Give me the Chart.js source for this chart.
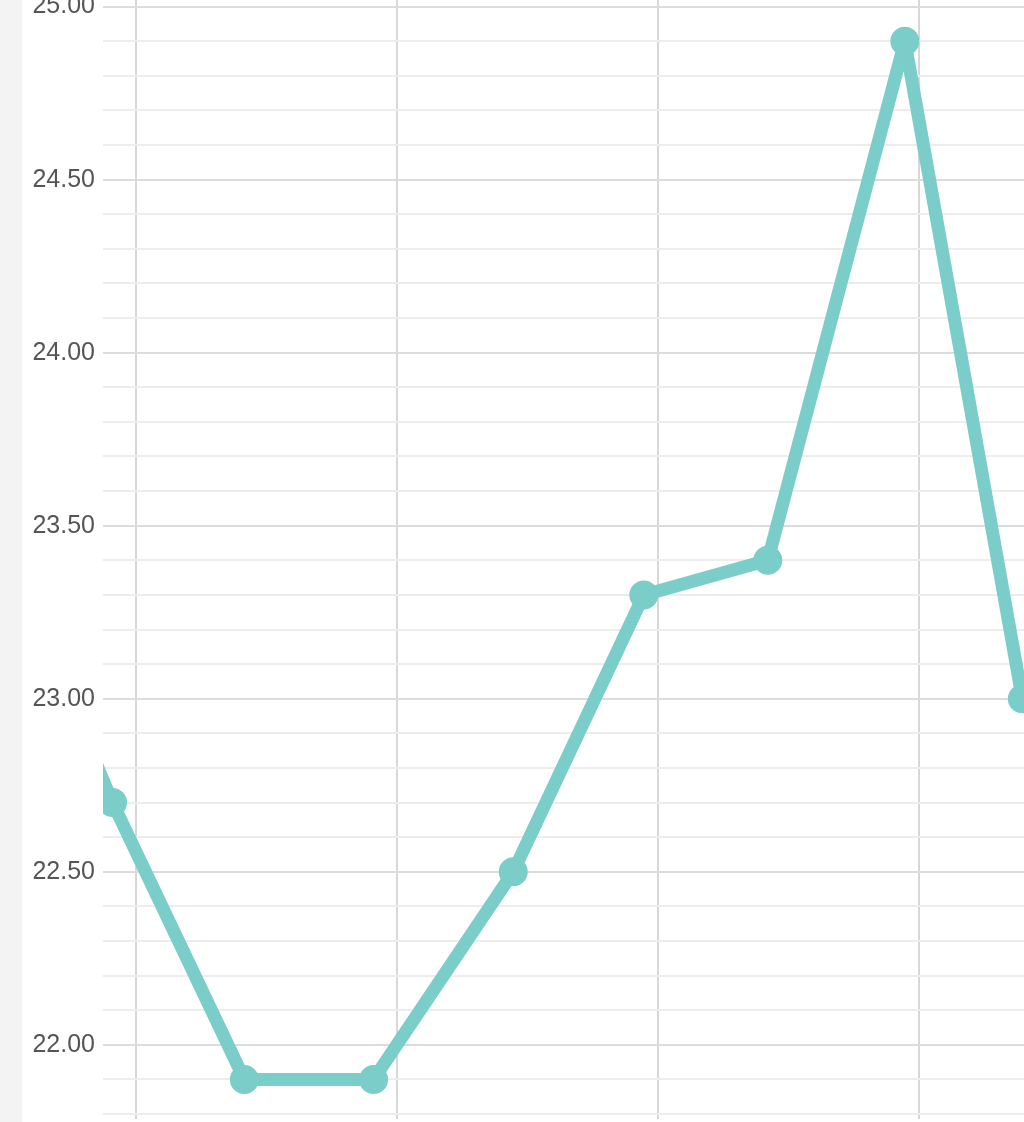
<!DOCTYPE html>
<html>
<head>
<meta charset="utf-8">
<script src="https://cdn.jsdelivr.net/npm/chart.js@4/dist/chart.umd.min.js"></script>
<style>
    html, body {
        margin: 0;
        padding: 0;
        width: 1024px;
        height: 1122px;
        overflow: hidden;
        background: #ffffff;
    }
    .side-strip {
        position: absolute;
        left: 0;
        top: 0;
        width: 22px;
        height: 1122px;
        background: #f3f3f3;
    }
    /* the view is zoomed in, so the chart runs past the top and right edge */
    .chart-wrap {
        position: absolute;
        left: 22px;
        top: -51px;
        width: 1109px;
        height: 1188px;
    }
</style>
</head>
<body>
<div class="side-strip"></div>
<div class="chart-wrap">
    <canvas id="tempChart"></canvas>
</div>

<script>
// Readings (x = position on the time axis, y = value)
const xValues = [-1.18, -0.18, 0.83, 1.82, 2.89, 3.89, 4.84, 5.89, 6.79];
const yValues = [23.6, 22.7, 21.9, 21.9, 22.5, 23.3, 23.4, 24.9, 23.0];

// Visible window
const xMin = -0.253;
const xMax = 7.5;
const yMin = 21.8;
const yMax = 25.1;

const lineColor = '#7acdc8';

function isMajor(value) {
    return Math.abs(value * 2 - Math.round(value * 2)) < 1e-6;
}

document.addEventListener('DOMContentLoaded', () => {
    const ctx = document.getElementById('tempChart').getContext('2d');

    new Chart(ctx, {
        type: 'line',
        data: {
            datasets: [{
                data: xValues.map((x, i) => ({ x: x, y: yValues[i] })),
                borderColor: lineColor,
                backgroundColor: lineColor,
                borderWidth: 13,
                borderJoinStyle: 'round',
                pointRadius: 13,
                pointBorderWidth: 3,
                pointBorderColor: lineColor,
                pointBackgroundColor: lineColor,
                tension: 0,
                fill: false,
                clip: 0
            }]
        },
        options: {
            responsive: true,
            maintainAspectRatio: false,
            animation: false,
            layout: {
                padding: 0
            },
            plugins: {
                legend: { display: false },
                tooltip: { enabled: false }
            },
            scales: {
                x: {
                    type: 'linear',
                    min: xMin,
                    max: xMax,
                    border: { display: false },
                    grid: {
                        color: '#d7d7d7',
                        lineWidth: 2,
                        tickLength: 5
                    },
                    ticks: {
                        display: false,
                        stepSize: 2,
                        includeBounds: false
                    }
                },
                y: {
                    min: yMin,
                    max: yMax,
                    border: { display: false },
                    grid: {
                        drawTicks: false,
                        lineWidth: 2,
                        color: (c) => isMajor(c.tick.value) ? '#dcdcdc' : '#ededed'
                    },
                    ticks: {
                        stepSize: 0.1,
                        autoSkip: false,
                        padding: 8,
                        color: '#555555',
                        font: {
                            family: '"Liberation Sans", Arial, sans-serif',
                            size: 25
                        },
                        callback: function(value) {
                            return isMajor(value) ? value.toFixed(2) : '';
                        }
                    },
                    afterFit: function(scale) {
                        scale.width = 81;
                    }
                }
            }
        }
    });
});
</script>
</body>
</html>
